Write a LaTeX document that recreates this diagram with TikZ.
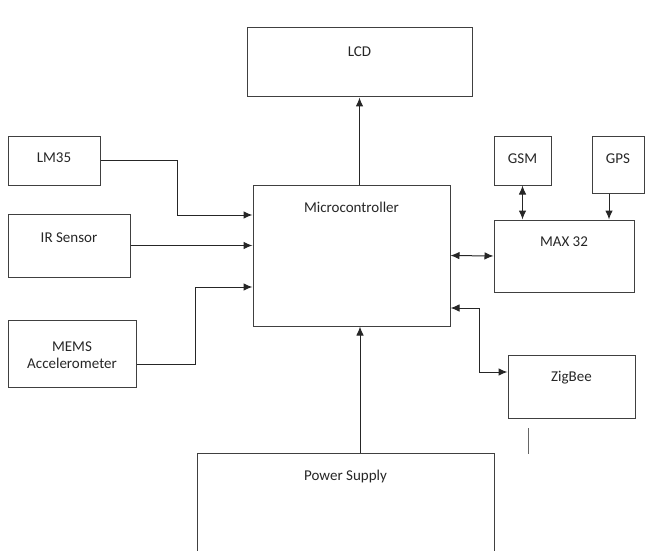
\documentclass[tikz,border=0pt]{standalone}
\usepackage{fontspec}
\setmainfont{Carlito}
\usepackage{xcolor}
\usepackage{tikz}
\usetikzlibrary{arrows.meta,positioning,calc}

\begin{document}
\begin{tikzpicture}[x=1pt,y=1pt,>={Latex[length=9pt,width=7.5pt]},
  blk/.style={draw=black!75,line width=1pt,inner sep=0pt},
  lbl/.style={font=\fontsize{15}{17}\selectfont,text=black!85,align=center,inner sep=0pt},
  wire/.style={draw=black!85,line width=1pt}]
  \clip (0,0) rectangle (645,550);
  % blocks
  \node[blk,minimum width=225,minimum height=69] (lcd) at (359.5,487.5) {};
  \node[blk,minimum width=92,minimum height=48] (lm35) at (54,389) {};
  \node[blk,minimum width=122,minimum height=63] (ir) at (69,304.5) {};
  \node[blk,minimum width=128,minimum height=67] (mems) at (72,196.5) {};
  \node[blk,minimum width=197,minimum height=141] (mcu) at (351.5,294.5) {};
  \node[blk,minimum width=57,minimum height=48] (gsm) at (522.5,389) {};
  \node[blk,minimum width=52,minimum height=56] (gps) at (618,385) {};
  \node[blk,minimum width=140,minimum height=72] (max) at (564,294) {};
  \node[blk,minimum width=127,minimum height=63] (zig) at (571.5,163.5) {};
  \node[blk,minimum width=297,minimum height=148] (pwr) at (345.5,23) {};
  % labels
  \node[lbl] (lcdt) at ([yshift=-24]lcd.north) {LCD};
  \node[lbl] (lm35t) at ([yshift=-21]lm35.north) {LM35};
  \node[lbl] (irt) at ([yshift=-24]ir.north) {IR Sensor};
  \node[lbl] (memst) at ([yshift=-35.5]mems.north) {MEMS\\Accelerometer};
  \node[lbl] (mcut) at ([yshift=-22.5]mcu.north) {Microcontroller};
  \node[lbl] (gsmt) at ([yshift=-22]gsm.north) {GSM};
  \node[lbl] (gpst) at ([yshift=-22]gps.north) {GPS};
  \node[lbl] (maxt) at ([yshift=-22]max.north) {MAX 32};
  \node[lbl] (zigt) at ([yshift=-23]zig.north) {ZigBee};
  \node[lbl] (pwrt) at ([yshift=-24]pwr.north) {Power Supply};
  % connectors
  \draw[wire,->] (lcd.south |- mcu.north) -- (lcd.south);
  \draw[wire,->] (lm35.east) -- ++(77,0) |- ([yshift=40.5]mcu.west);
  \draw[wire,->] (ir.east) -- (ir.east -| mcu.west);
  \draw[wire,->] ([yshift=-10.5]mems.east) -- ++(59,0) |- ([yshift=-31.5]mcu.west);
  \draw[wire,<->] (mcu.east) -- (max.west);
  \draw[wire,<->] (gsm.south) -- (gsm.south |- max.north);
  \draw[wire,->] ([xshift=-9]gps.south) -- ([xshift=-9]gps.south |- max.north);
  \draw[wire,<->] ([yshift=-52.5]mcu.east) -- ++(29,0) |- ([yshift=14.5]zig.west);
  \draw[wire,->] ([xshift=14.5]pwr.north) -- ([xshift=14.5]pwr.north |- mcu.south);
  % stray mark under ZigBee
  \coordinate (s1) at (528,122);
  \coordinate (s2) at (528,96);
  \draw[draw=black!60,line width=1pt] (s1) -- (s2);
\end{tikzpicture}
\end{document}
